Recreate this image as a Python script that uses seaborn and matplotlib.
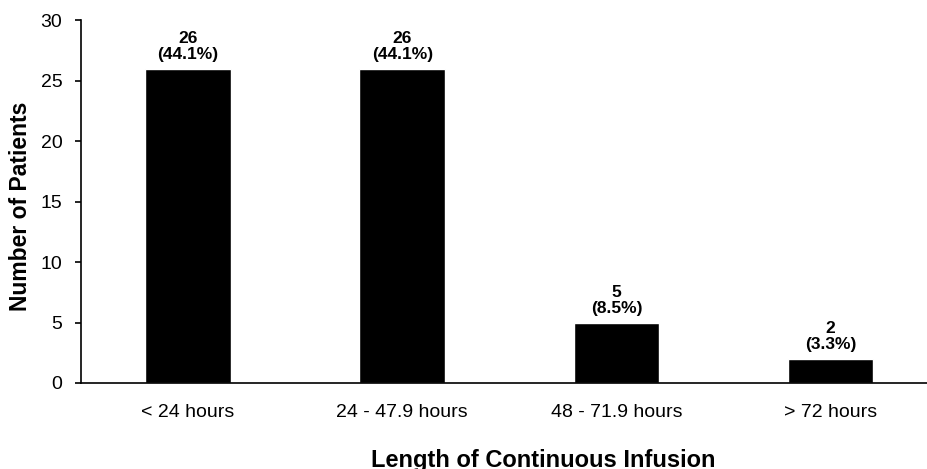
import matplotlib
matplotlib.use('Agg')
import matplotlib.pyplot as plt
import seaborn as sns
import pandas as pd

categories = ['< 24 hours', '24 - 47.9 hours', '48 - 71.9 hours', '> 72 hours']
patients = [26, 26, 5, 2]
percents = ['44.1%', '44.1%', '8.5%', '3.3%']

df = pd.DataFrame({'Length': categories, 'Patients': patients})

sns.set_theme(style='white')
plt.rcParams['font.family'] = ['Liberation Sans', 'DejaVu Sans']
plt.rcParams['text.color'] = 'black'
plt.rcParams['axes.labelcolor'] = 'black'
plt.rcParams['xtick.color'] = 'black'
plt.rcParams['ytick.color'] = 'black'

fig = plt.figure(figsize=(9.27, 4.69), dpi=100)
ax = fig.add_axes([0.0874, 0.1834, 0.9126, 0.7736])

sns.barplot(data=df, x='Length', y='Patients', color='black', width=0.4,
            saturation=1, ax=ax)

for i, (n, p) in enumerate(zip(patients, percents)):
    ax.annotate(f'{n}\n({p})', (i, n), xytext=(0, 5), textcoords='offset points',
                ha='center', va='bottom', fontsize=12.5, fontweight='bold',
                linespacing=1.05)

ax.set_xlim(-0.5, 3.45)
ax.set_ylim(0, 30)
ax.set_yticks(range(0, 31, 5))
for s in ['top', 'right']:
    ax.spines[s].set_visible(False)
for s in ['left', 'bottom']:
    ax.spines[s].set_color('black')
    ax.spines[s].set_linewidth(1.2)
ax.tick_params(axis='y', left=True, length=4.5, width=1.2,
               labelsize=14, pad=9)
ax.tick_params(axis='x', bottom=False, labelsize=14, pad=9)
ax.set_ylabel('Number of Patients', fontsize=16.5, fontweight='bold')
ax.set_xlabel('Length of Continuous Infusion', fontsize=17, fontweight='bold')
ax.yaxis.set_label_coords(-0.058, 0.488)
ax.xaxis.set_label_coords(0.546, -0.183)

fig.savefig('out.png', dpi=100)
